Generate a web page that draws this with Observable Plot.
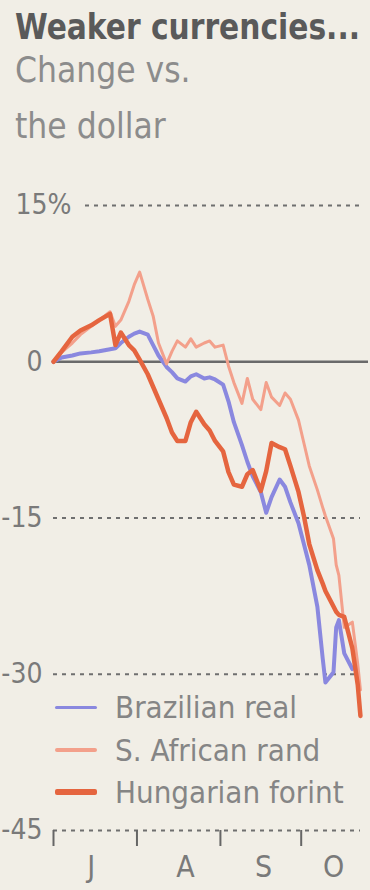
<!DOCTYPE html>
<html>
<head>
<meta charset="utf-8">
<script src="https://cdn.jsdelivr.net/npm/d3@7"></script>
<script src="https://cdn.jsdelivr.net/npm/@observablehq/plot@0.6"></script>
<style>
  html, body { margin: 0; padding: 0; background: #f1eee6; }
  body { width: 370px; height: 890px; position: relative; overflow: hidden;
         font-family: "DejaVu Sans Condensed", "DejaVu Sans", sans-serif; font-stretch: condensed; }
  #title { position: absolute; left: 15px; top: 10px; font-size: 35px; line-height: 35px;
           font-weight: bold; color: #5a5a5a; white-space: nowrap; transform-origin: 0 0; }
  #subtitle { position: absolute; left: 15px; top: 42px; font-size: 35px; line-height: 56px;
              color: #8c8c8c; }
  #chart { position: absolute; left: 0; top: 150px; }
  #legend { position: absolute; left: 0; top: 0; }
  .row { position: absolute; left: 55px; height: 40px; display: flex; align-items: center; white-space: nowrap; }
  .sw { width: 42px; margin-right: 18px; border-radius: 2px; }
  .lab { font-size: 31px; color: #858585; }
</style>
</head>
<body>
<div id="title">Weaker currencies...</div>
<div id="subtitle">Change vs.<br>the dollar</div>
<div id="chart"></div>
<div id="legend"></div>
<script>
// ---- data (percent change vs. the dollar) ----
const dates = [
  "2008-07-01","2008-07-04","2008-07-08","2008-07-11","2008-07-15","2008-07-18","2008-07-22","2008-07-24",
  "2008-07-26","2008-07-29","2008-07-31","2008-08-02","2008-08-05","2008-08-07","2008-08-09","2008-08-12",
  "2008-08-14","2008-08-16","2008-08-19","2008-08-21","2008-08-23","2008-08-26","2008-08-28","2008-08-30",
  "2008-09-02","2008-09-04","2008-09-06","2008-09-09","2008-09-11","2008-09-13","2008-09-16","2008-09-18",
  "2008-09-20","2008-09-23","2008-09-25","2008-09-27","2008-09-30","2008-10-02","2008-10-04","2008-10-07",
  "2008-10-09","2008-10-10","2008-10-13","2008-10-14","2008-10-15","2008-10-17","2008-10-20","2008-10-22",
  "2008-10-23"
];
const brazilianReal = [
  0, 0.4, 0.6, 0.8, 0.9, 1.0, 1.2, 1.3,
  1.8, 2.4, 2.7, 2.9, 2.6, 1.6, 0.6, -0.5,
  -1.0, -1.6, -1.9, -1.4, -1.2, -1.6, -1.5, -1.7,
  -2.2, -3.8, -5.8, -8.0, -9.6, -11.0, -12.5, -14.5,
  -13.0, -11.3, -12.0, -13.5, -15.5, -17.5, -19.5, -23.5,
  -28.5, -30.8, -29.8, -25.5, -24.8, -28.0, -29.5, null,
  null
];
const southAfricanRand = [
  0, 0.9, 1.8, 2.6, 3.4, 4.0, 4.8, 3.4,
  4.0, 5.8, 7.4, 8.6, 6.0, 4.4, 1.8, -0.2,
  1.0, 2.0, 1.4, 2.2, 1.4, 1.8, 2.0, 1.4,
  1.6, -0.4, -2.0, -4.0, -1.6, -3.6, -4.6, -2.0,
  -3.4, -4.2, -3.0, -3.6, -5.6, -7.8, -10.0, -12.3,
  -14.0, -14.8, -17.0, -19.5, -20.5, -25.5, -25.0, -29.0,
  -31.5
];
const hungarianForint = [
  0, 1.0, 2.4, 3.0, 3.5, 4.0, 4.6, 1.6,
  2.8, 1.6, 1.1, 0.2, -1.2, -2.4, -3.6, -5.4,
  -6.8, -7.6, -7.6, -5.8, -4.8, -6.0, -6.6, -7.6,
  -8.6, -10.6, -11.8, -12.0, -10.8, -10.4, -12.4, -10.5,
  -7.8, -8.2, -8.4, -10.0, -12.5, -14.8, -17.5, -20.0,
  -21.3, -22.0, -23.5, -24.0, -24.3, -24.5, -27.5, -31.0,
  -34.0
];
const seriesNames = ["Brazilian real", "S. African rand", "Hungarian forint"];
const seriesValues = [brazilianReal, southAfricanRand, hungarianForint];
const seriesColors = ["#8a88df", "#f3a08b", "#e5653f"];
const seriesWidths = [4, 3, 4.5];
const yGridTicks = [-15, -30, -45];
const yTopTick = [15];
const yLabelTicks = [0, -15, -30, -45];
const monthStarts = ["2008-07-01", "2008-08-01", "2008-09-01", "2008-10-01"];
const monthLabelDates = ["2008-07-15", "2008-08-19", "2008-09-17", "2008-10-13"];
const monthLabels = ["J", "A", "S", "O"];
const xDomain = ["2008-07-01", "2008-10-26"];
const yDomain = [-45, 15];

// ---- build ----
const parse = d3.utcParse("%Y-%m-%d");
const tables = seriesValues.map((vals, s) =>
  dates.map((d, i) => ({date: parse(d), value: vals[i], name: seriesNames[s]})));
const font = '"DejaVu Sans Condensed", "DejaVu Sans", sans-serif';

const lineMarks = tables.map((t, s) =>
  Plot.line(t, {x: "date", y: "value", stroke: seriesColors[s], strokeWidth: seriesWidths[s],
    strokeLinejoin: "round", strokeLinecap: "round", defined: d => d.value != null}));

const chart = Plot.plot({
  width: 370, height: 740,
  marginTop: 55, marginBottom: 60, marginLeft: 53, marginRight: 2,
  style: {background: "transparent", fontFamily: font, overflow: "visible"},
  x: {type: "utc", domain: xDomain.map(parse)},
  y: {domain: yDomain},
  marks: [
    Plot.ruleY(yGridTicks, {stroke: "#6f6f6f", strokeWidth: 2, strokeDasharray: "4,5", insetRight: 8}),
    Plot.ruleY(yTopTick, {stroke: "#6f6f6f", strokeWidth: 2, strokeDasharray: "4,5", insetLeft: 32, insetRight: 8}),
    Plot.ruleY([0], {stroke: "#6a6a6a", strokeWidth: 2.5}),
    ...lineMarks,
    Plot.axisY({ticks: yLabelTicks, tickSize: 0, tickPadding: 11, tickFormat: d => String(d),
      fontSize: 28, fill: "#7a7a7a", label: null}),
    Plot.axisY({ticks: yTopTick, tickSize: 0, tickPadding: 11, tickFormat: d => d + "%",
      textAnchor: "start", dx: -27, fontSize: 28, fill: "#7a7a7a", label: null}),
    Plot.axisX({ticks: monthStarts.map(parse), tickFormat: () => "", tickSize: 16,
      stroke: "#666", strokeWidth: 2, label: null}),
    Plot.axisX({ticks: monthLabelDates.map(parse), tickFormat: (d, i) => monthLabels[i],
      tickSize: 0, tickPadding: 25, fontSize: 30, fill: "#7a7a7a", label: null})
  ]
});
document.getElementById("chart").appendChild(chart);

// ---- title fit to the reference width ----
const title = document.getElementById("title");
const tw = title.getBoundingClientRect().width;
if (tw > 0) title.style.transform = `scaleX(${345 / tw})`;

// ---- legend ----
const legend = document.getElementById("legend");
const rowCenters = [707, 750, 792];
const swatchHeights = [3, 4, 6];
seriesNames.forEach((name, i) => {
  const row = document.createElement("div");
  row.className = "row";
  row.style.top = (rowCenters[i] - 20) + "px";
  const sw = document.createElement("div");
  sw.className = "sw";
  sw.style.height = swatchHeights[i] + "px";
  sw.style.background = seriesColors[i];
  const lab = document.createElement("span");
  lab.className = "lab";
  lab.textContent = name;
  row.appendChild(sw); row.appendChild(lab);
  legend.appendChild(row);
});
</script>
</body>
</html>
